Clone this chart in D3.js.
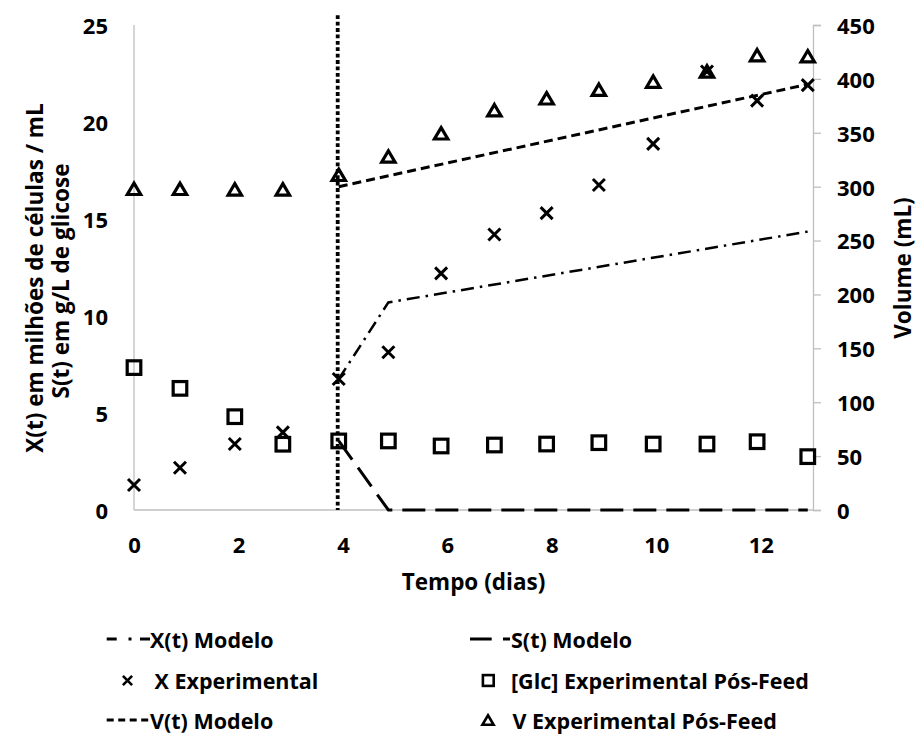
<!DOCTYPE html>
<html>
<head>
<meta charset="utf-8">
<script src="https://cdn.jsdelivr.net/npm/d3@7"></script>
<style>
  html, body { margin: 0; padding: 0; background: #fff; }
  svg { display: block; font-family: "Open Sans", Lato, sans-serif; font-weight: bold; }
</style>
</head>
<body>
<script>
// Sampling days (experimental points)
const days    = [0, 0.88, 1.93, 2.85, 3.92, 4.87, 5.88, 6.9, 7.9, 8.9, 9.94, 10.97, 11.93, 12.9];
// Cell density, millions of cells / mL
const xExp    = [1.29, 2.18, 3.4, 4.0, 6.75, 8.13, 12.2, 14.2, 15.3, 16.75, 18.87, 22.6, 21.1, 21.9];
// Glucose, g/L
const glcExp  = [7.34, 6.27, 4.81, 3.39, 3.56, 3.56, 3.3, 3.35, 3.4, 3.47, 3.4, 3.4, 3.52, 2.75];
// Culture volume, mL
const vExp    = [298, 298, 297.5, 297.5, 311, 328, 349.5, 371, 382, 390, 397.5, 407, 422, 421];

// Model curves after the feed starts
const xModelT = [3.92, 4.87, 12.9];
const xModelY = [6.75, 10.7, 14.35];
const sModelT = [3.92, 4.87, 12.9];
const sModelY = [3.56, 0, 0];
const vModelT = [3.92, 12.9];
const vModelY = [300, 395];

const feedDay = 3.9;

const xTicks  = [0, 2, 4, 6, 8, 10, 12];
const yLTicks = [0, 5, 10, 15, 20, 25];
const yRTicks = [0, 50, 100, 150, 200, 250, 300, 350, 400, 450];

const W = 916, H = 734;
const svg = d3.select("body").append("svg").attr("width", W).attr("height", H);

const x  = d3.scaleLinear().domain([0, 13]).range([134, 813]);
const yL = d3.scaleLinear().domain([0, 25]).range([510, 25]);
const yR = d3.scaleLinear().domain([0, 450]).range([510, 25]);

const axisGrey = "#bfbfbf";
const tickFont = 22;
const titleFont = 22.5;

// Axes lines
svg.append("line").attr("x1", x(0)).attr("x2", x(0)).attr("y1", yL(25)).attr("y2", yL(0))
  .attr("stroke", axisGrey).attr("stroke-width", 1.3);
svg.append("line").attr("x1", x(0)).attr("x2", x(13)).attr("y1", yL(0)).attr("y2", yL(0))
  .attr("stroke", axisGrey).attr("stroke-width", 1.3);

function styleTicks(g) {
  g.selectAll(".tick text").attr("font-size", tickFont).attr("font-family", "'Open Sans', Lato, sans-serif")
    .attr("font-weight", "bold").attr("fill", "#000");
}

// Right axis (volume) with outward ticks
const rightAxis = d3.axisRight(yR).tickValues(yRTicks).tickSize(8).tickPadding(16).tickFormat(d3.format("d"));
const gR = svg.append("g").attr("transform", `translate(${x(13)},0)`).call(rightAxis);
gR.select(".domain").attr("stroke", axisGrey).attr("stroke-width", 1.3);
gR.selectAll(".tick line").attr("stroke", axisGrey).attr("stroke-width", 1.3);
styleTicks(gR);
gR.selectAll(".tick text").attr("dy", "0.38em");

// Left axis labels
const leftAxis = d3.axisLeft(yL).tickValues(yLTicks).tickSize(0).tickPadding(26).tickFormat(d3.format("d"));
const gL = svg.append("g").attr("transform", `translate(${x(0)},0)`).call(leftAxis);
gL.select(".domain").remove();
styleTicks(gL);
gL.selectAll(".tick text").attr("dy", "0.38em");

// Bottom axis labels
const bottomAxis = d3.axisBottom(x).tickValues(xTicks).tickSize(0).tickPadding(27).tickFormat(d3.format("d"));
const gB = svg.append("g").attr("transform", `translate(0,${yL(0)})`).call(bottomAxis);
gB.select(".domain").remove();
styleTicks(gB);

// Axis titles
svg.append("text").attr("x", (x(0) + x(13)) / 2).attr("y", 581).attr("text-anchor", "middle")
  .attr("dominant-baseline", "central").attr("font-size", titleFont).text("Tempo (dias)");
svg.append("text").attr("transform", "translate(34,278) rotate(-90)").attr("text-anchor", "middle")
  .attr("dominant-baseline", "central").attr("font-size", titleFont).text("X(t) em milhões de células / mL");
svg.append("text").attr("transform", "translate(60,281) rotate(-90)").attr("text-anchor", "middle")
  .attr("dominant-baseline", "central").attr("font-size", titleFont).text("S(t) em g/L de glicose");
svg.append("text").attr("transform", "translate(902,268) rotate(-90)").attr("text-anchor", "middle")
  .attr("dominant-baseline", "central").attr("font-size", titleFont).text("Volume (mL)");

// Feed start marker
svg.append("line").attr("x1", x(feedDay)).attr("x2", x(feedDay)).attr("y1", yL(25.5)).attr("y2", yL(0))
  .attr("stroke", "#000").attr("stroke-width", 3.8).attr("stroke-dasharray", "3.8 2.6");

// Model lines
const lineL = d3.line().x(d => x(d[0])).y(d => yL(d[1]));
const lineR = d3.line().x(d => x(d[0])).y(d => yR(d[1]));

const dashX = "13 6 2.5 6";
const dashS = "23 10";
const dashV = "9 5";

svg.append("path").datum(d3.zip(xModelT, xModelY)).attr("d", lineL)
  .attr("fill", "none").attr("stroke", "#000").attr("stroke-width", 2.5).attr("stroke-dasharray", dashX);
svg.append("path").datum(d3.zip(sModelT, sModelY)).attr("d", lineL)
  .attr("fill", "none").attr("stroke", "#000").attr("stroke-width", 3).attr("stroke-dasharray", dashS);
svg.append("path").datum(d3.zip(vModelT, vModelY)).attr("d", lineR)
  .attr("fill", "none").attr("stroke", "#000").attr("stroke-width", 3).attr("stroke-dasharray", dashV);

// Marker shapes
function cross(g, cx, cy, s, w) {
  g.append("path").attr("d", `M${cx - s},${cy - s}L${cx + s},${cy + s}M${cx - s},${cy + s}L${cx + s},${cy - s}`)
    .attr("stroke", "#000").attr("stroke-width", w).attr("fill", "none");
}
function square(g, cx, cy, s, w) {
  g.append("rect").attr("x", cx - s).attr("y", cy - s).attr("width", 2 * s).attr("height", 2 * s)
    .attr("stroke", "#000").attr("stroke-width", w).attr("fill", "none");
}
function triangle(g, cx, cy, s, w) {
  const h = s * 0.85;
  g.append("path").attr("d", `M${cx},${cy - h}L${cx + s},${cy + h}L${cx - s},${cy + h}Z`)
    .attr("stroke", "#000").attr("stroke-width", w).attr("fill", "none").attr("stroke-linejoin", "miter");
}

const gm = svg.append("g");
days.forEach((d, i) => square(gm, x(d), yL(glcExp[i]), 6.8, 3.2));
days.forEach((d, i) => triangle(gm, x(d), yR(vExp[i]), 6.7, 3.2));
days.forEach((d, i) => cross(gm, x(d), yL(xExp[i]), 6, 3));

// Legend
const lg = svg.append("g").attr("font-size", 21.5);
const rows = [639, 680.5, 720];
function legendLine(x1, x2, y, dash, w) {
  lg.append("line").attr("x1", x1).attr("x2", x2).attr("y1", y).attr("y2", y)
    .attr("stroke", "#000").attr("stroke-width", w).attr("stroke-dasharray", dash);
}
function legendText(tx, y, t) {
  lg.append("text").attr("x", tx).attr("y", y).attr("dominant-baseline", "central").text(t);
}
legendLine(106.7, 150, rows[0], "10 11.8 3 8.5 10", 2.8);
legendText(150, rows[0], "X(t) Modelo");
cross(lg, 127.5, rows[1], 4.6, 2.6);
legendText(154.5, rows[1], "X Experimental");
legendLine(106.7, 150, rows[2], "7 4.5", 2.8);
legendText(150, rows[2], "V(t) Modelo");

legendLine(470, 510, rows[0], "21.7 11.3", 2.8);
legendText(511, rows[0], "S(t) Modelo");
square(lg, 488.3, rows[1], 5.4, 2.6);
legendText(511, rows[1], "[Glc] Experimental Pós-Feed");
triangle(lg, 488, rows[2], 5.6, 2.6);
legendText(512.5, rows[2], "V Experimental Pós-Feed");
</script>
</body>
</html>
